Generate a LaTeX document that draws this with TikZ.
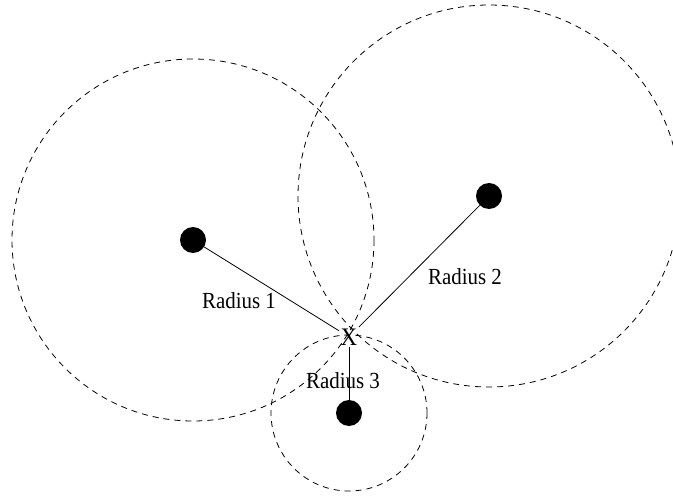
\documentclass[tikz,border=0pt]{standalone}
\usepackage{fontspec}
\setmainfont{Liberation Serif}
\newcommand{\tallt}[1]{\scalebox{1}[1.1]{#1}}
\begin{document}
\begin{tikzpicture}[x=1bp,y=-1bp,
  dot/.style={circle,fill=black,inner sep=0pt,minimum size=26bp},
  ring/.style={draw=black,line width=0.8bp,dash pattern=on 6bp off 5bp},
  link/.style={draw=black,line width=0.8bp},
  lbl/.style={font=\fontsize{21}{24}\selectfont,inner sep=0pt}]
\useasboundingbox (0,0) rectangle (673,498);
\node[dot] (d1) at (193,240) {};
\node[dot] (d2) at (489,196) {};
\node[dot] (d3) at (349,413) {};
\node[lbl,font=\fontsize{23}{26}\selectfont,inner sep=1.5bp] (x) at (349,337) {\tallt{X}};
\draw[ring] (d1.center) circle[radius=181];
\draw[ring] (d2.center) circle[radius=191];
\draw[ring] (d3.center) circle[radius=78];
\draw[link] (d1) -- (x);
\draw[link] (d2) -- (x);
\draw[link,line width=0.6bp] (d3) -- (x);
\node[lbl] (r1) at (239,301) {\tallt{Radius 1}};
\node[lbl] (r2) at (465,277) {\tallt{Radius 2}};
\node[lbl] (r3) at (343,381) {\tallt{Radius 3}};
\end{tikzpicture}
\end{document}
